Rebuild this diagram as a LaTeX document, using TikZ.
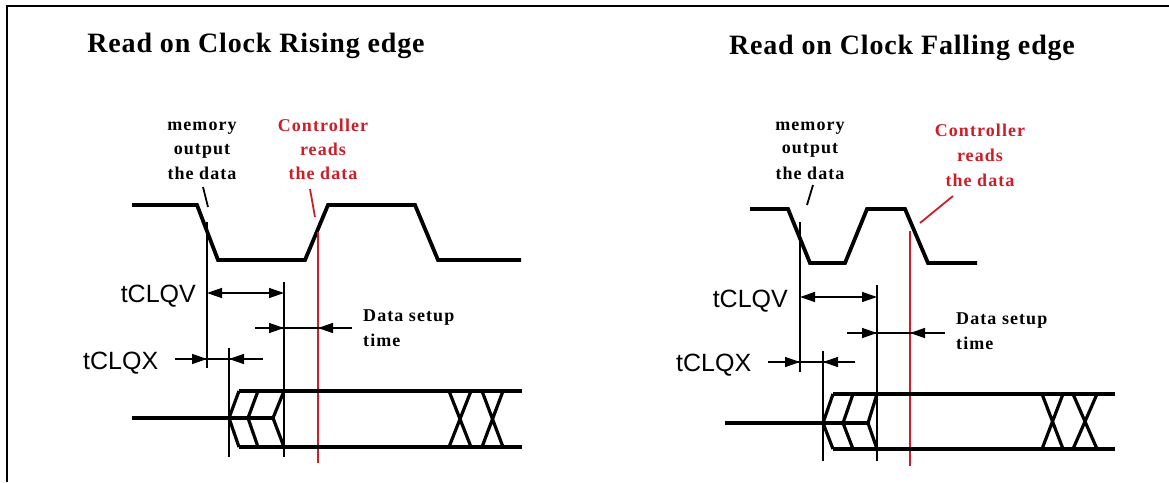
\documentclass[tikz,border=0pt]{standalone}
\usepackage{fontspec}
\setmainfont{Liberation Serif}
\newfontfamily\titlefont[LetterSpace=3]{Liberation Serif}
\newfontfamily\lblfont[LetterSpace=6]{Liberation Serif}
\newfontfamily\sansf{Liberation Sans}
\usetikzlibrary{arrows.meta}
\definecolor{redl}{RGB}{205,30,40}
\tikzset{
  wave/.style={line width=3.8pt, line join=miter},
  chev/.style={line width=3.2pt, line join=miter},
  guide/.style={line width=1.4pt},
  redguide/.style={line width=1.5pt, draw=redl},
  tick/.style={line width=1.8pt},
  arr/.style={line width=1.4pt, -{Triangle[length=15pt,width=10pt]}},
  dbl/.style={line width=1.4pt, {Triangle[length=15pt,width=10pt]}-{Triangle[length=15pt,width=10pt]}},
  ttl/.style={font=\titlefont\bfseries\fontsize{28}{30}\selectfont, inner sep=0pt, anchor=base},
  lbl/.style={font=\lblfont\bfseries\fontsize{18}{20}\selectfont, inner sep=0pt, anchor=base},
  tlbl/.style={font=\sansf\fontsize{25}{27}\selectfont, inner sep=0pt},
}
\begin{document}
\begin{tikzpicture}[x=1pt,y=-1pt]
\useasboundingbox (0,0) rectangle (1169,482);
% frame
\draw[line width=2pt] (7,482) -- (7,6) -- (1169,6);

% ================= LEFT: rising edge =================
\node[ttl] (titleL) at (256,52) {Read on Clock Rising edge};
\node[lbl] (memL1) at (202,130) {memory};
\node[lbl] (memL2) at (202,154) {output};
\node[lbl] (memL3) at (202,179) {the data};
\node[lbl, text=redl] (conL1) at (323,131) {Controller};
\node[lbl, text=redl] (conL2) at (323,155) {reads};
\node[lbl, text=redl] (conL3) at (323,179) {the data};
\node[tlbl, anchor=base east] (qvL) at (196,302) {tCLQV};
\node[tlbl, anchor=base west] (qxL) at (83,369) {tCLQX};
\node[lbl, anchor=base west] (dsL1) at (363,321) {Data setup};
\node[lbl, anchor=base west] (dsL2) at (363,346) {time};

% clock
\draw[wave] (132,205) -- (197,205) -- (218,260) -- (305,260) -- (328,205)
  -- (415,205) -- (438,260) -- (521,260);
% markers
\draw[tick] (203,187) -- (208,207);
\draw[tick, redl] (310,189) -- (315,217);
% guide lines
\coordinate (gL1t) at (207,222); \coordinate (gL1b) at (207,368);
\coordinate (gL2t) at (229,348); \coordinate (gL2b) at (229,457);
\coordinate (gL3t) at (284,282); \coordinate (gL3b) at (284,457);
\coordinate (rLt) at (318,232);  \coordinate (rLb) at (318,463);
\draw[guide] (gL1t) -- (gL1b);
\draw[guide] (gL2t) -- (gL2b);
\draw[guide] (gL3t) -- (gL3b);
\draw[redguide] (rLt) -- (rLb);
% tCLQV
\coordinate (qvLa) at (207,293); \coordinate (qvLb) at (284,293);
\draw[dbl] (qvLa) -- (qvLb);
% data setup
\coordinate (dsLa) at (255,328); \coordinate (dsLb) at (284,328);
\coordinate (dsLc) at (318,328); \coordinate (dsLd) at (352,328);
\draw[guide] (dsLa) -- (dsLd);
\draw[arr] (dsLa) -- (dsLb);
\draw[arr] (dsLd) -- (dsLc);
% tCLQX
\coordinate (qxLa) at (175,359); \coordinate (qxLb) at (207,359);
\coordinate (qxLc) at (229,359); \coordinate (qxLd) at (263,359);
\draw[guide] (qxLa) -- (qxLd);
\draw[arr] (qxLa) -- (qxLb);
\draw[arr] (qxLd) -- (qxLc);
% data bus
\draw[wave] (132,418) -- (229,418);
\draw[chev] (229,418) -- (273,418);
\draw[wave] (522,391) -- (239,391);
\draw[wave] (522,447) -- (239,447);
\draw[chev] (239,391) -- (229,418) -- (239,447);
\draw[chev] (258,391) -- (248,418) -- (258,447);
\draw[chev] (284,391) -- (273,418) -- (284,447);
\draw[chev] (449,391) -- (471,447) (471,391) -- (449,447);
\draw[chev] (482,391) -- (503,447) (503,391) -- (482,447);

% ================= RIGHT: falling edge =================
\node[ttl] (titleR) at (902,54) {Read on Clock Falling edge};
\node[lbl] (memR1) at (810,130) {memory};
\node[lbl] (memR2) at (810,153) {output};
\node[lbl] (memR3) at (810,179) {the data};
\node[lbl, text=redl] (conR1) at (980,136) {Controller};
\node[lbl, text=redl] (conR2) at (980,161) {reads};
\node[lbl, text=redl] (conR3) at (980,186) {the data};
\node[tlbl, anchor=base east] (qvR) at (788,307) {tCLQV};
\node[tlbl, anchor=base west] (qxR) at (676,371) {tCLQX};
\node[lbl, anchor=base west] (dsR1) at (956,324) {Data setup};
\node[lbl, anchor=base west] (dsR2) at (956,349) {time};

% clock
\draw[wave] (750,209) -- (788,209) -- (810,263) -- (845,263) -- (867,209)
  -- (905,209) -- (928,263) -- (977,263);
% markers
\draw[tick] (807,205) -- (813,185);
\draw[tick, redl] (920,223) -- (953,196);
% guide lines
\coordinate (gR1t) at (800,222); \coordinate (gR1b) at (800,372);
\coordinate (gR2t) at (823,351); \coordinate (gR2b) at (823,461);
\coordinate (gR3t) at (877,285); \coordinate (gR3b) at (877,461);
\coordinate (rRt) at (910,231);  \coordinate (rRb) at (910,466);
\draw[guide] (gR1t) -- (gR1b);
\draw[guide] (gR2t) -- (gR2b);
\draw[guide] (gR3t) -- (gR3b);
\draw[redguide] (rRt) -- (rRb);
% tCLQV
\coordinate (qvRa) at (800,297); \coordinate (qvRb) at (877,297);
\draw[dbl] (qvRa) -- (qvRb);
% data setup
\coordinate (dsRa) at (847,333); \coordinate (dsRb) at (877,333);
\coordinate (dsRc) at (910,333); \coordinate (dsRd) at (945,333);
\draw[guide] (dsRa) -- (dsRd);
\draw[arr] (dsRa) -- (dsRb);
\draw[arr] (dsRd) -- (dsRc);
% tCLQX
\coordinate (qxRa) at (768,362); \coordinate (qxRb) at (800,362);
\coordinate (qxRc) at (823,362); \coordinate (qxRd) at (855,362);
\draw[guide] (qxRa) -- (qxRd);
\draw[arr] (qxRa) -- (qxRb);
\draw[arr] (qxRd) -- (qxRc);
% data bus
\draw[wave] (725,423) -- (823,423);
\draw[chev] (823,423) -- (868,423);
\draw[wave] (1115,394) -- (833,394);
\draw[wave] (1115,449) -- (833,449);
\draw[chev] (833,394) -- (823,423) -- (833,449);
\draw[chev] (853,394) -- (843,423) -- (853,449);
\draw[chev] (877,394) -- (868,423) -- (877,449);
\draw[chev] (1042,394) -- (1063,449) (1063,394) -- (1042,449);
\draw[chev] (1073,394) -- (1097,449) (1097,394) -- (1073,449);
\end{tikzpicture}
\end{document}
